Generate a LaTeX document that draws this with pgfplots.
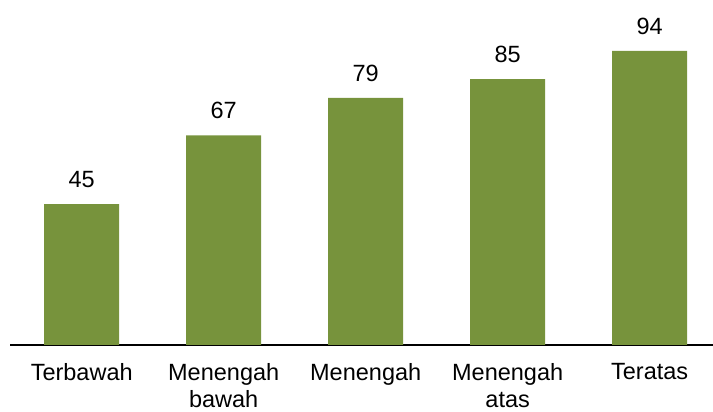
\documentclass[border=0pt]{standalone}
\usepackage{pgfplots}
\pgfplotsset{compat=1.18}
\usepackage{fontspec}
\setmainfont{Liberation Sans}
\definecolor{barolive}{HTML}{77933C}

\begin{document}
\begin{tikzpicture}
\fontsize{23.5}{27}\selectfont
\useasboundingbox (-10pt,-67pt) rectangle (703pt,345pt);
\begin{axis}[
    at={(0,0)}, anchor=south west,
    scale only axis,
    width=703pt, height=312.8pt,
    xmin=-0.505, xmax=4.446,
    ymin=0, ymax=100,
    axis x line=bottom,
    axis y line=none,
    x axis line style={-, black, line width=1.5pt},
    xtick=data,
    xticklabels={Terbawah, {Menengah\\bawah}, Menengah, {Menengah\\atas}, Teratas},
    major tick length=0pt,
    xticklabel style={align=center, anchor=north, inner sep=0pt,
        font=\fontsize{23.5}{27}\selectfont, yshift=-18.5pt},
    /pgf/number format/assume math mode=true,
    nodes near coords,
    every node near coord/.append style={font=\fontsize{23.5}{27}\selectfont,
        inner sep=0pt, anchor=south, yshift=16pt, black},
    ybar, bar width=75pt,
]
\addplot[fill=barolive, draw=none] coordinates {
    (0,45) (1,67) (2,79) (3,85) (4,94)
};
\end{axis}
\end{tikzpicture}
\end{document}
